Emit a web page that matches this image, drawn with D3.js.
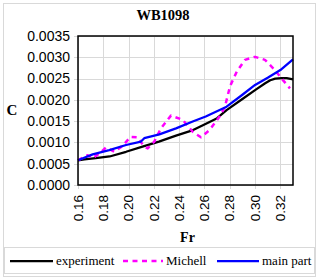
<!DOCTYPE html>
<html>
<head>
<meta charset="utf-8">
<script src="https://cdn.jsdelivr.net/npm/d3@7"></script>
<style>
  html, body { margin: 0; padding: 0; background: #fff; }
  svg { display: block; }
</style>
</head>
<body>
<script>
// chart values
const xTicks = [0.16, 0.18, 0.20, 0.22, 0.24, 0.26, 0.28, 0.30, 0.32];
const yTicks = [0, 0.0005, 0.001, 0.0015, 0.002, 0.0025, 0.003, 0.0035];

const expFr = [0.16, 0.165, 0.174, 0.185, 0.198, 0.211, 0.224, 0.2375, 0.251, 0.26, 0.27, 0.2775, 0.29, 0.30, 0.308, 0.312, 0.316, 0.321, 0.325, 0.33];
const expC = [0.00058, 0.0006, 0.00063, 0.00067, 0.00078, 0.0009, 0.00102, 0.00116, 0.00129, 0.00142, 0.00157, 0.00176, 0.00202, 0.00223, 0.00239, 0.00246, 0.0025, 0.00251, 0.00251, 0.00248];

const michellFr = [0.16, 0.1635, 0.1677, 0.1716, 0.1768, 0.1821, 0.1887, 0.1953, 0.2015, 0.207, 0.2124, 0.2151, 0.2203, 0.2256, 0.2335, 0.2428, 0.2507, 0.2572, 0.2643, 0.2722, 0.2762, 0.2802, 0.2855, 0.292, 0.30, 0.3078, 0.3157, 0.321, 0.3276];
const michellC = [0.00058, 0.00064, 0.0007, 0.00063, 0.00074, 0.00088, 0.00078, 0.00092, 0.00113, 0.00112, 0.0009, 0.00086, 0.00102, 0.00133, 0.00163, 0.00153, 0.00125, 0.00112, 0.0013, 0.00162, 0.00184, 0.00232, 0.00266, 0.00294, 0.00301, 0.00294, 0.0027, 0.0025, 0.00227];

const mainFr = [0.16, 0.1716, 0.1847, 0.198, 0.2098, 0.2124, 0.2243, 0.2375, 0.2507, 0.261, 0.2775, 0.29, 0.30, 0.31, 0.32, 0.33];
const mainC = [0.00058, 0.00072, 0.00082, 0.00094, 0.00102, 0.0011, 0.00119, 0.00133, 0.00149, 0.00161, 0.00184, 0.00212, 0.00235, 0.00252, 0.0027, 0.00295];

const seriesNames = ['experiment', 'Michell', 'main part'];

const W = 319, H = 279;
const plot = { left: 78, top: 36, right: 293, bottom: 185 };

const svg = d3.select('body').append('svg')
  .attr('width', W)
  .attr('height', H);

// outer chart frame
svg.append('rect')
  .attr('x', 3.5).attr('y', 3.5)
  .attr('width', W - 7).attr('height', H - 6)
  .attr('fill', '#fff')
  .attr('stroke', '#d9d9d9');

const x = d3.scaleLinear().domain([0.16, 0.33]).range([plot.left, plot.right]);
const y = d3.scaleLinear().domain([0, 0.0035]).range([plot.bottom, plot.top]);

// grid + outside tick marks
const grid = svg.append('g').attr('stroke', '#d9d9d9').attr('stroke-width', 1);
grid.selectAll('.vg')
  .data(xTicks)
  .enter()
  .append('line')
  .attr('x1', d => Math.round(x(d)) + 0.5)
  .attr('x2', d => Math.round(x(d)) + 0.5)
  .attr('y1', plot.top)
  .attr('y2', plot.bottom + 4);
grid.selectAll('.hg')
  .data(yTicks)
  .enter()
  .append('line')
  .attr('x1', plot.left - 4)
  .attr('x2', plot.right)
  .attr('y1', d => Math.round(y(d)) + 0.5)
  .attr('y2', d => Math.round(y(d)) + 0.5);

// y tick labels
svg.append('g')
  .selectAll('text')
  .data(yTicks)
  .enter()
  .append('text')
  .attr('x', 70)
  .attr('y', d => y(d))
  .attr('dy', '0.35em')
  .attr('text-anchor', 'end')
  .attr('font-family', 'Liberation Sans, Arial, sans-serif')
  .attr('font-size', 14)
  .attr('fill', '#000')
  .text(d => d3.format('.4f')(d));

// x tick labels (rotated)
svg.append('g')
  .selectAll('text')
  .data(xTicks)
  .enter()
  .append('text')
  .attr('transform', d => `translate(${x(d)},${plot.bottom + 10}) rotate(-90)`)
  .attr('dy', '0.35em')
  .attr('text-anchor', 'end')
  .attr('font-family', 'Liberation Sans, Arial, sans-serif')
  .attr('font-size', 13.5)
  .attr('fill', '#000')
  .text(d => d3.format('.2f')(d));

// lines
const line = d3.line()
  .x(d => x(d[0]))
  .y(d => y(d[1]));

const series = [
  { name: seriesNames[0], pts: d3.zip(expFr, expC), color: '#000000', dash: null, width: 2.25 },
  { name: seriesNames[1], pts: d3.zip(michellFr, michellC), color: '#ff00ff', dash: '5,4.5', width: 2.5 },
  { name: seriesNames[2], pts: d3.zip(mainFr, mainC), color: '#0000ff', dash: null, width: 2.25 },
];

svg.append('g')
  .selectAll('path')
  .data(series)
  .enter()
  .append('path')
  .attr('d', d => line(d.pts))
  .attr('fill', 'none')
  .attr('stroke', d => d.color)
  .attr('stroke-width', d => d.width)
  .attr('stroke-dasharray', d => d.dash)
  .attr('stroke-linejoin', 'round');

// plot area border
svg.append('rect')
  .attr('x', plot.left)
  .attr('y', plot.top)
  .attr('width', plot.right - plot.left)
  .attr('height', plot.bottom - plot.top)
  .attr('fill', 'none')
  .attr('stroke', '#000')
  .attr('stroke-width', 1.5);

// titles
svg.append('text')
  .attr('x', 163).attr('y', 20)
  .attr('text-anchor', 'middle')
  .attr('font-family', 'Liberation Serif, Times New Roman, serif')
  .attr('font-weight', 'bold')
  .attr('font-size', 14.5)
  .text('WB1098');

svg.append('text')
  .attr('x', 12).attr('y', 110)
  .attr('dy', '0.35em')
  .attr('text-anchor', 'middle')
  .attr('font-family', 'Liberation Serif, Times New Roman, serif')
  .attr('font-weight', 'bold')
  .attr('font-size', 15)
  .text('C');

svg.append('text')
  .attr('x', (plot.left + plot.right) / 2 + 2).attr('y', 242)
  .attr('text-anchor', 'middle')
  .attr('font-family', 'Liberation Serif, Times New Roman, serif')
  .attr('font-weight', 'bold')
  .attr('font-size', 14)
  .text('Fr');

// legend
const legend = svg.append('g');
legend.append('rect')
  .attr('x', 4.5).attr('y', 247.5)
  .attr('width', 310).attr('height', 26)
  .attr('fill', '#fff')
  .attr('stroke', '#d9d9d9');

const legendX = [10, 123, 217];
const legendLen = [43, 40, 42];
const items = legend.selectAll('g')
  .data(series)
  .enter()
  .append('g')
  .attr('transform', (d, i) => `translate(${legendX[i]},261)`);
items.append('line')
  .attr('x1', 0)
  .attr('x2', (d, i) => legendLen[i])
  .attr('stroke', d => d.color)
  .attr('stroke-width', d => d.width)
  .attr('stroke-dasharray', d => d.dash);
items.append('text')
  .attr('x', (d, i) => legendLen[i] + 3)
  .attr('dy', '0.32em')
  .attr('font-family', 'Liberation Serif, Times New Roman, serif')
  .attr('font-size', 13)
  .text(d => d.name);
</script>
</body>
</html>
